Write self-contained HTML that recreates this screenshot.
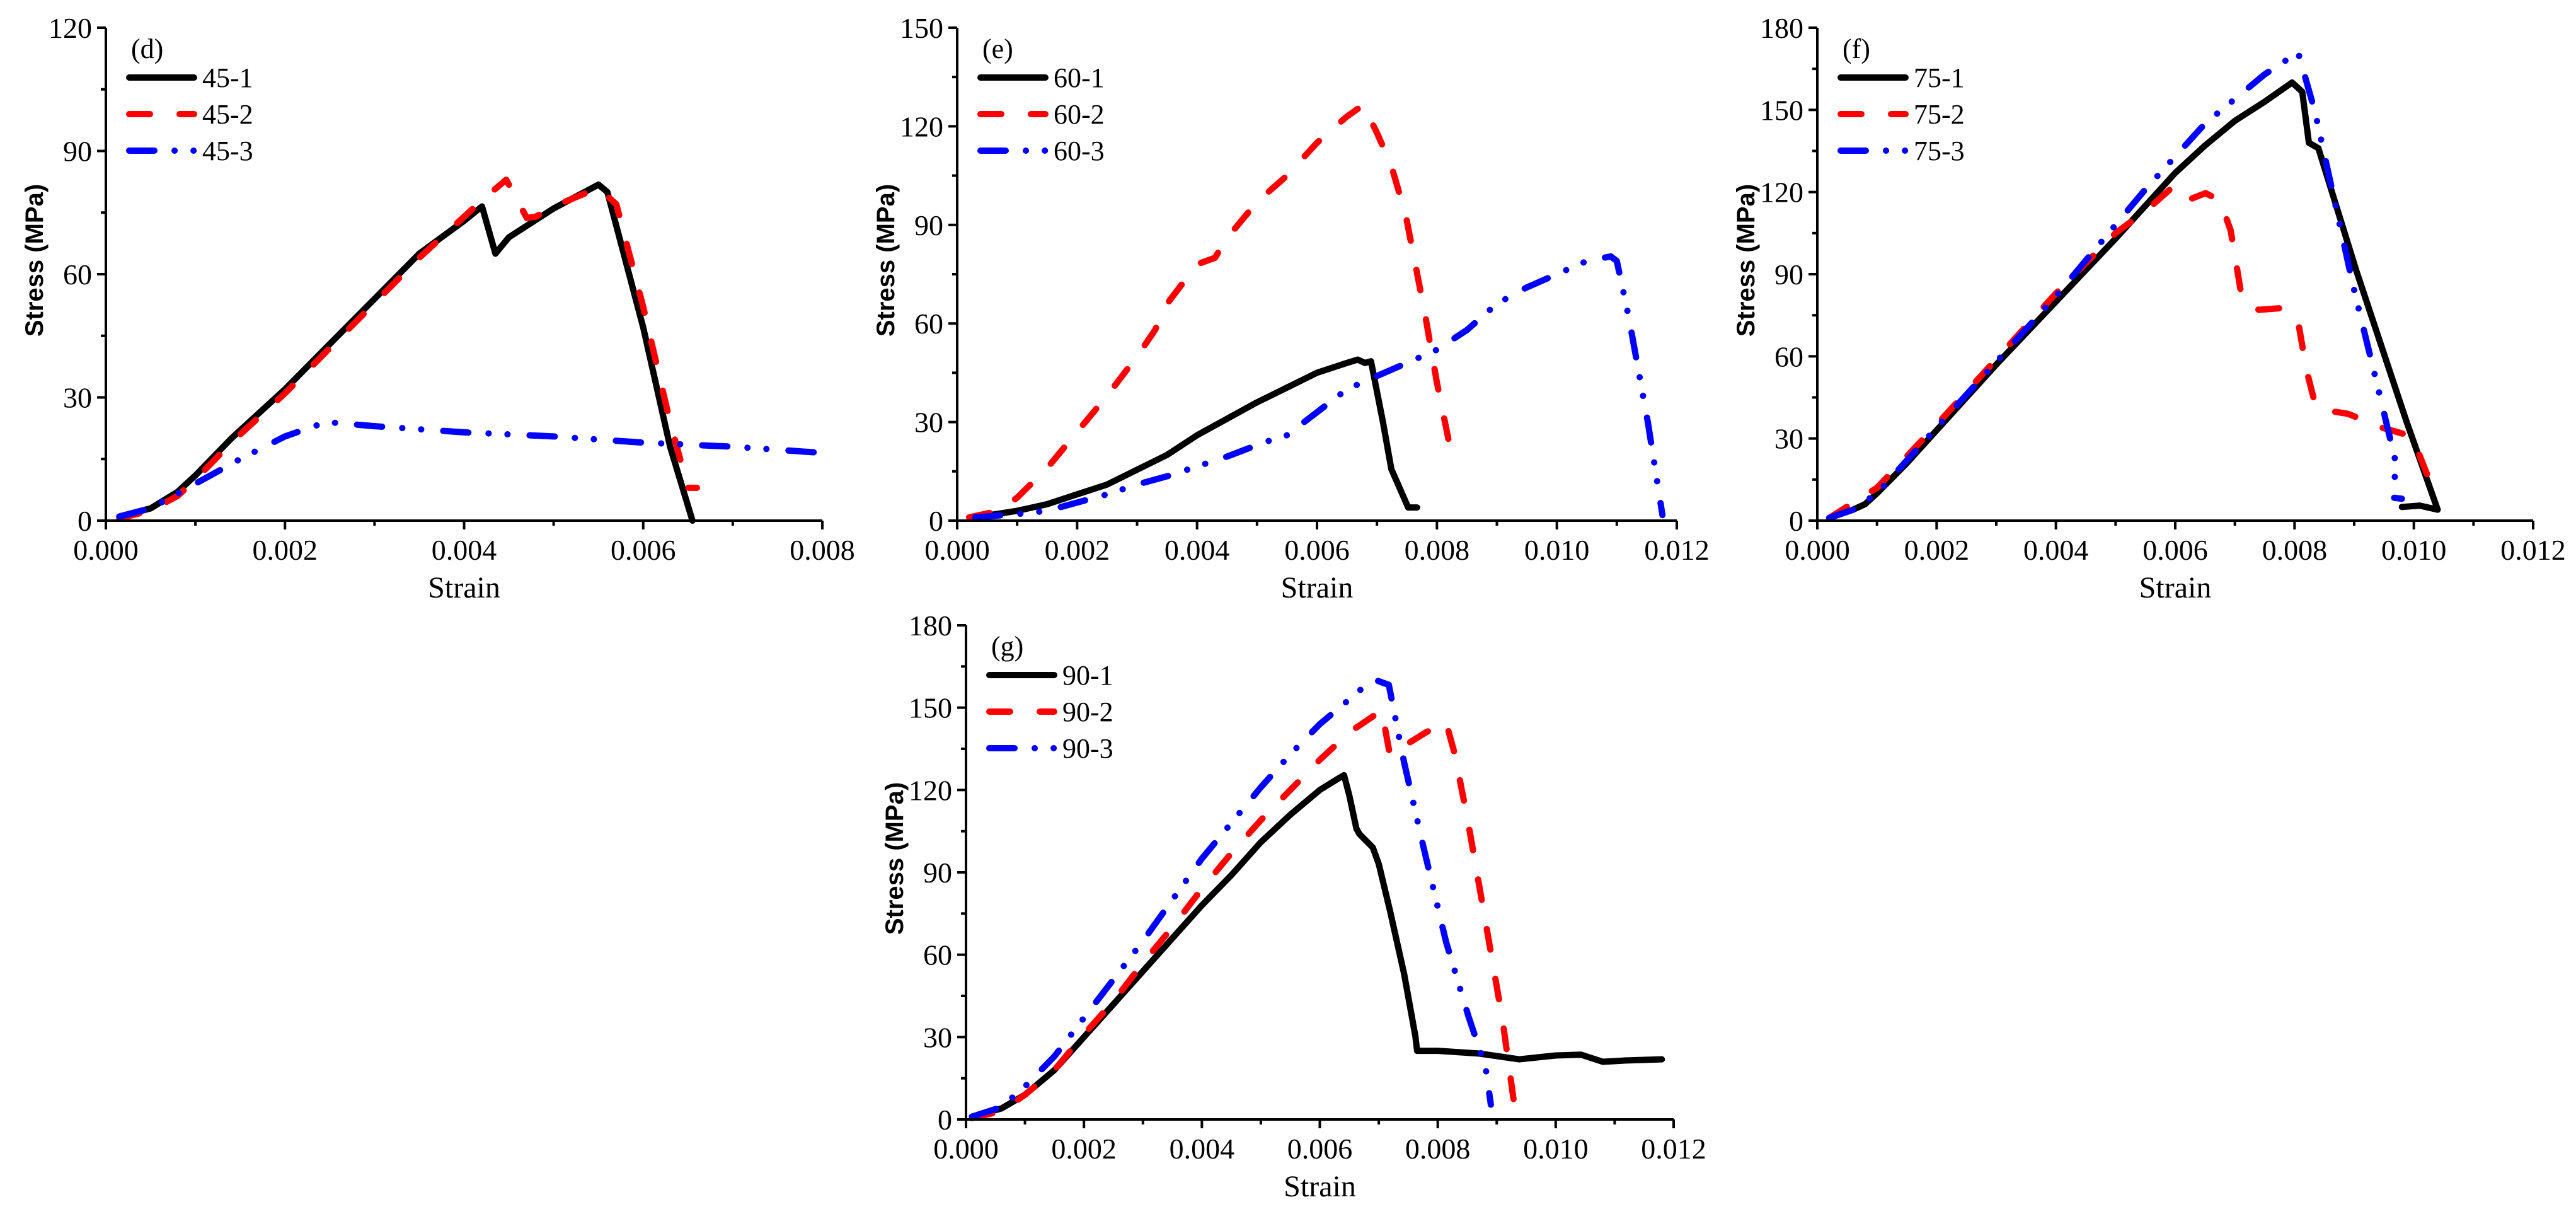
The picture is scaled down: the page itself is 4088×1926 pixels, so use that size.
<!DOCTYPE html>
<html><head><meta charset="utf-8"><style>
html,body{margin:0;padding:0;background:#fff;}
svg text{font-family:"Liberation Serif",serif;}
</style></head><body>
<svg id="fig" xmlns="http://www.w3.org/2000/svg" width="4088" height="1921" viewBox="0 0 4088 1921">
<rect width="4088" height="1921" fill="#fff"/>
</svg>
<script>
// ---- data (strain, stress MPa) ----
const d_451 = [[0.00015,1],[0.0005,3],[0.0008,7],[0.001,11],[0.0014,20],[0.002,32],[0.0025,43],[0.003,54],[0.0035,65],[0.004,73],[0.0042,76.5],[0.00435,65],[0.0045,69],[0.005,76],[0.0055,81.8],[0.0056,80],[0.006,47],[0.0063,18],[0.00655,0]];
const d_452 = [[0.00015,0.5],[0.0005,2.5],[0.0008,6],[0.001,10],[0.0014,19],[0.002,31],[0.0025,42],[0.003,53],[0.0035,64],[0.004,74],[0.0042,78],[0.00447,83],[0.0047,73.7],[0.0048,74],[0.005,76.5],[0.0055,81],[0.0057,77],[0.006,52],[0.0063,24],[0.0065,8],[0.0066,8]];
const d_453 = [[0.00015,1],[0.0005,3],[0.001,9],[0.0015,15],[0.002,20.5],[0.00246,24],[0.003,23],[0.004,21.5],[0.005,20.5],[0.006,19],[0.007,18],[0.008,16.5]];
const e_601 = [[0.0003,1],[0.001,3],[0.0015,5],[0.002,8],[0.0025,11],[0.003,15.5],[0.0035,20],[0.004,26],[0.0045,31],[0.005,36],[0.0055,40.5],[0.006,45],[0.0065,48],[0.00668,49],[0.0068,48],[0.0069,48.5],[0.0071,30],[0.00724,15.7],[0.00752,4],[0.00767,4]];
const e_602 = [[0.0002,1],[0.0007,3],[0.001,7],[0.0015,16],[0.002,27],[0.0025,38],[0.003,50],[0.0033,58],[0.0035,66],[0.004,78],[0.0043,80],[0.0045,86],[0.005,97],[0.0055,105],[0.006,115],[0.0065,123],[0.00677,126.5],[0.007,118],[0.00724,108],[0.00748,93],[0.0078,63],[0.008,42],[0.0082,24],[0.00828,17.5]];
const e_603 = [[0.0003,1],[0.001,2],[0.0015,3],[0.002,5.5],[0.0025,8],[0.003,11],[0.0035,13.5],[0.004,16.5],[0.0045,19.5],[0.00513,23.9],[0.0055,26],[0.006,33],[0.0065,40],[0.007,44],[0.0075,48],[0.008,52],[0.0085,58],[0.009,66],[0.0095,71],[0.010,75],[0.0105,79],[0.0109,80.4],[0.011,79],[0.0112,61.8],[0.01152,29.7],[0.01176,1.7]];
const f_751 = [[0.0002,1],[0.0006,4],[0.0008,6],[0.001,10],[0.0015,21],[0.002,33],[0.003,57],[0.004,80],[0.005,103],[0.0055,115],[0.006,127],[0.0065,137],[0.007,146],[0.0075,153],[0.00796,160],[0.00813,156.6],[0.00824,138],[0.0084,136],[0.00904,91],[0.00988,36],[0.0104,4],[0.0101,5.5],[0.0098,5]];
const f_752 = [[0.0002,1],[0.001,12],[0.002,35],[0.003,59],[0.004,83],[0.005,105],[0.0055,113],[0.00595,121.7],[0.00618,116.8],[0.00651,119.6],[0.00675,116.8],[0.00693,106],[0.00712,81],[0.0074,77],[0.00778,77.6],[0.00806,72.7],[0.0082,55],[0.00834,43],[0.00843,40.6],[0.0089,39],[0.00946,34],[0.00997,30.8],[0.01025,15.4]];
const f_753 = [[0.0002,1],[0.0006,4],[0.001,10],[0.002,34],[0.003,58],[0.004,82],[0.005,108],[0.0055,121],[0.006,133],[0.0065,145],[0.007,154],[0.0075,163],[0.00806,171],[0.00834,149.6],[0.00899,85],[0.00946,43],[0.0097,21],[0.00965,8.4],[0.0098,8]];
const g_901 = [[0.0001,1],[0.0006,4],[0.001,9],[0.0015,18],[0.002,30],[0.0025,42],[0.003,54],[0.0035,66],[0.004,78],[0.0045,89],[0.005,101],[0.0055,111],[0.006,120],[0.0063,124],[0.00641,125.4],[0.0065,118],[0.00662,106],[0.00667,104],[0.0069,99],[0.007,93],[0.00719,76],[0.00743,53],[0.00762,30.4],[0.00765,25],[0.008,25],[0.00871,24],[0.00938,21.9],[0.01,23.3],[0.01043,23.6],[0.0108,21],[0.0112,21.5],[0.0118,21.9]];
const g_902 = [[0.0001,0.5],[0.0006,3],[0.001,9],[0.0015,18],[0.002,31],[0.0025,43],[0.003,57],[0.0035,70],[0.004,84],[0.0045,97],[0.005,109],[0.0055,120],[0.006,131],[0.0065,141],[0.00705,149],[0.00719,132.6],[0.0075,137],[0.0078,141],[0.00814,144.7],[0.00829,133],[0.00852,107.6],[0.00881,72],[0.0091,36],[0.00933,0.4]];
const g_903 = [[0.0001,1],[0.0006,4.5],[0.001,12],[0.0015,23],[0.002,37],[0.0025,51],[0.003,65],[0.0035,80],[0.004,95],[0.0045,108],[0.005,121],[0.0055,133],[0.006,144],[0.0065,153],[0.0069,160.4],[0.00717,158.3],[0.00743,130],[0.00776,99],[0.00814,64.7],[0.00852,37.6],[0.00881,19],[0.0089,5.4]];
const xTicksD = ["0.000","0.002","0.004","0.006","0.008"];
const xTicks12 = ["0.000","0.002","0.004","0.006","0.008","0.010","0.012"];
const yTicks120 = [0,30,60,90,120];
const yTicks150 = [0,30,60,90,120,150];
const yTicks180 = [0,30,60,90,120,150,180];

const NS="http://www.w3.org/2000/svg";
const svg=document.getElementById('fig');
function mk(tag,attrs,parent){const e=document.createElementNS(NS,tag);for(const k in attrs)e.setAttribute(k,attrs[k]);(parent||svg).appendChild(e);return e;}
const STY={
 solid:{stroke:'#000',dash:''},
 dash:{stroke:'#ff0000',dash:'33,47'},
 dashdot:{stroke:'#0000ff',dash:'40,32,0.1,30,0.1,35'}
};
function panel(cfg){
 const g=mk('g',{});
 
 
 const L=cfg.x0,R=cfg.x1,T=cfg.y1,B=cfg.y0;
 const sx=v=>L+v/cfg.xmax*(R-L);
 const sy=v=>B-v/cfg.ymax*(B-T);
 // series
 cfg.series.forEach(s=>{
  const st=STY[s.style];
  const p=mk('path',{d:s.data.map((pt,i)=>(i?'L':'M')+sx(pt[0]).toFixed(1)+' '+sy(pt[1]).toFixed(1)).join(' '),fill:'none',stroke:st.stroke,'stroke-width':10,'stroke-linejoin':'round','stroke-linecap':'round'},g);
  if(st.dash)p.setAttribute('stroke-dasharray',st.dash);
  
  
 });
 // axes
 const ax=mk('path',{d:`M${L} ${T} L${L} ${B} L${R} ${B}`,fill:'none',stroke:'#000','stroke-width':4},g);
 
 
 // x ticks
 const nx=cfg.xt.length-1;
 for(let i=0;i<=nx;i++){
  const v=cfg.xmax*i/nx, x=sx(v);
  mk('line',{x1:x,y1:B,x2:x,y2:B+14,stroke:'#000','stroke-width':4},g);
  if(i<nx){const xm=sx(v+cfg.xmax/nx/2);mk('line',{x1:xm,y1:B,x2:xm,y2:B+8,stroke:'#000','stroke-width':4},g);}
  const t=mk('text',{x:x,y:B+62,'font-size':46,'text-anchor':'middle'},g);t.textContent=cfg.xt[i];
  
  
 }
 const ny=cfg.yt.length-1;
 for(let i=0;i<=ny;i++){
  const v=cfg.yt[i], y=sy(v);
  mk('line',{x1:L-14,y1:y,x2:L,y2:y,stroke:'#000','stroke-width':4},g);
  if(i<ny){const ym=sy(v+(cfg.yt[1]-cfg.yt[0])/2);mk('line',{x1:L-8,y1:ym,x2:L,y2:ym,stroke:'#000','stroke-width':4},g);}
  const t=mk('text',{x:L-22,y:y+16,'font-size':46,'text-anchor':'end'},g);t.textContent=String(v);
  
  
 }
 const yt=mk('text',{x:0,y:0,'font-size':40,'font-weight':'bold','text-anchor':'middle',style:'font-family:"Liberation Sans",sans-serif',transform:`translate(${L-100},${(T+B)/2-22}) rotate(-90)`},g);
 yt.textContent='Stress (MPa)';
 
 
 const xt=mk('text',{x:(L+R)/2,y:B+122,'font-size':48,'text-anchor':'middle'},g);
 xt.textContent='Strain';
 
 
 const lab=mk('text',{x:L+40,y:T+48,'font-size':44},g);
 lab.textContent='('+cfg.tag+')';
 
 
 cfg.series.forEach((s,i)=>{
  const st=STY[s.style], y=T+79+i*58;
  const lg=mk('g',{},g);
  
  
  const l=mk('line',{x1:L+37,y1:y,x2:L+140,y2:y,stroke:st.stroke,'stroke-width':10,'stroke-linecap':'round'},lg);
  if(st.dash)l.setAttribute('stroke-dasharray',st.dash);
  const t=mk('text',{x:L+153,y:y+15,'font-size':44},lg);t.textContent=s.name;
 });
}
panel({tag:'d',x0:168,x1:1305,y0:826,y1:44,xmax:0.008,ymax:120,xt:xTicksD,yt:yTicks120,
 series:[{name:'45-1',style:'solid',data:d_451},{name:'45-2',style:'dash',data:d_452},{name:'45-3',style:'dashdot',data:d_453}]});
panel({tag:'e',x0:1519,x1:2661,y0:826,y1:44,xmax:0.012,ymax:150,xt:xTicks12,yt:yTicks150,
 series:[{name:'60-1',style:'solid',data:e_601},{name:'60-2',style:'dash',data:e_602},{name:'60-3',style:'dashdot',data:e_603}]});
panel({tag:'f',x0:2884,x1:4020,y0:826,y1:44,xmax:0.012,ymax:180,xt:xTicks12,yt:yTicks180,
 series:[{name:'75-1',style:'solid',data:f_751},{name:'75-2',style:'dash',data:f_752},{name:'75-3',style:'dashdot',data:f_753}]});
panel({tag:'g',x0:1533,x1:2656,y0:1776,y1:992,xmax:0.012,ymax:180,xt:xTicks12,yt:yTicks180,
 series:[{name:'90-1',style:'solid',data:g_901},{name:'90-2',style:'dash',data:g_902},{name:'90-3',style:'dashdot',data:g_903}]});
</script>
</body></html>
